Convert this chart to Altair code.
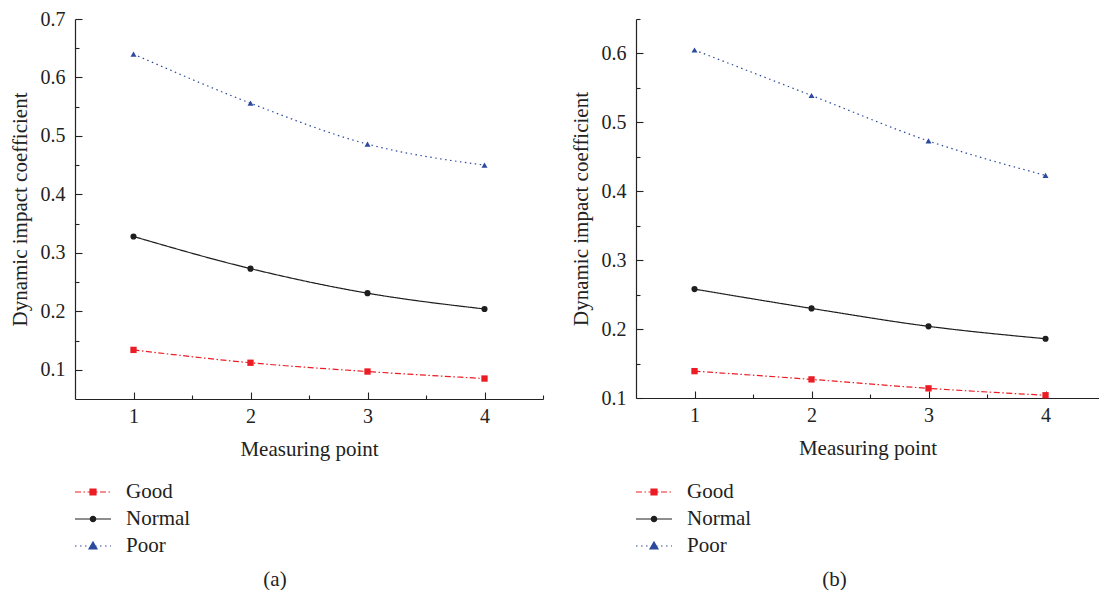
import altair as alt
import pandas as pd

# ---------------- data ----------------
points = [1, 2, 3, 4]
series = ["Good", "Normal", "Poor"]

a_good = [0.134, 0.112, 0.097, 0.085]
a_normal = [0.328, 0.273, 0.231, 0.204]
a_poor = [0.640, 0.556, 0.486, 0.450]

b_good = [0.139, 0.127, 0.114, 0.104]
b_normal = [0.258, 0.230, 0.204, 0.186]
b_poor = [0.605, 0.539, 0.473, 0.423]

x_major = [1, 2, 3, 4]
x_minor = [1.5, 2.5, 3.5, 4.5]
a_y_major = [0.1, 0.2, 0.3, 0.4, 0.5, 0.6, 0.7]
a_y_minor = [0.15, 0.25, 0.35, 0.45, 0.55, 0.65]
b_y_major = [0.1, 0.2, 0.3, 0.4, 0.5, 0.6]
b_y_minor = [0.15, 0.25, 0.35, 0.45, 0.55, 0.65]

# ---------------- styles ----------------
FONT = "Liberation Serif"
TXT = "#222222"
colors = ["#ec1c24", "#1e1e1e", "#2c4a9e"]
dashes = [[6, 2.5, 1.5, 2.5], [1, 0], [1.5, 3.5]]
marker_shapes = ["square", "circle", "triangle-up"]
marker_sizes = [40, 36, 70]

UNIT = 10.0  # legend symbol: sqrt(400)/2 px per path unit


def seg_path(pattern, half=1.8):
    if not pattern:
        return f"M{-half},0H{half}"
    out = []
    x = -half
    i = 0
    while x < half - 1e-9:
        length = pattern[i % len(pattern)] / UNIT
        end = min(x + length, half)
        if i % 2 == 0:
            out.append(f"M{x:.3f},0H{end:.3f}")
        x = end
        i += 1
    return "".join(out)


square = "M-0.3,-0.3H0.3V0.3H-0.3Z"
circle = "M-0.27,0A0.27,0.27 0 1,0 0.27,0A0.27,0.27 0 1,0 -0.27,0Z"
triangle = "M0,-0.4L0.4,0.3H-0.4Z"
legend_paths = [
    seg_path([6, 2.5, 1.5, 2.5]) + square,
    seg_path(None) + circle,
    seg_path([1.5, 3.5]) + triangle,
]


def make_df(good, normal, poor):
    rows = []
    for s, vals in zip(series, [good, normal, poor]):
        for p, v in zip(points, vals):
            rows.append({"point": p, "value": v, "series": s})
    return pd.DataFrame(rows)


def panel(df, xdom, ydom, y_major, y_minor, W, H, label, title_dx):
    xs = alt.Scale(domain=xdom, nice=False, zero=False)
    ys = alt.Scale(domain=ydom, nice=False, zero=False)
    base = alt.Chart(df)

    lines = base.mark_line(interpolate="monotone", strokeWidth=1.2).encode(
        x=alt.X("point:Q", scale=xs, axis=alt.Axis(
            orient="bottom", values=x_major, format="d", ticks=False, tickSize=0,
            labelPadding=7, grid=False, title="Measuring point", titlePadding=12)),
        y=alt.Y("value:Q", scale=ys, axis=alt.Axis(
            orient="left", values=y_major, format=".1f", ticks=False, tickSize=0,
            labelPadding=10, grid=False, title="Dynamic impact coefficient", titlePadding=10)),
        color=alt.Color("series:N", scale=alt.Scale(domain=series, range=colors), legend=None),
        strokeDash=alt.StrokeDash("series:N", scale=alt.Scale(domain=series, range=dashes), legend=None),
    )

    pts = base.mark_point(filled=True, opacity=1).encode(
        x=alt.X("point:Q", scale=xs, axis=alt.Axis(
            orient="top", offset=-H, values=x_major, labels=False, domain=False,
            tickSize=7, grid=False, title=None)),
        y=alt.Y("value:Q", scale=ys, axis=alt.Axis(
            orient="right", offset=-W, values=y_major, labels=False, domain=False,
            tickSize=7, grid=False, title=None)),
        color=alt.Color("series:N", scale=alt.Scale(domain=series, range=colors), legend=None),
        shape=alt.Shape("series:N", scale=alt.Scale(domain=series, range=marker_shapes), legend=None),
        size=alt.Size("series:O", scale=alt.Scale(domain=series, range=marker_sizes), legend=None),
    )

    leg = alt.Legend(
        title=None, orient="none", legendX=7, legendY=462,
        symbolSize=400, symbolStrokeWidth=1.2, labelOffset=22, rowPadding=6,
        labelFont=FONT, labelFontSize=21, labelColor=TXT,
    )
    legend_layer = base.transform_filter("false").mark_point(
        filled=True, opacity=1, size=400, strokeWidth=1.2
    ).encode(
        x=alt.X("point:Q", scale=xs, axis=alt.Axis(
            orient="top", offset=-H, values=x_minor, labels=False, domain=False,
            tickSize=4, grid=False, title=None)),
        y=alt.Y("value:Q", scale=ys, axis=alt.Axis(
            orient="right", offset=-W, values=y_minor, labels=False, domain=False,
            tickSize=4, grid=False, title=None)),
        fill=alt.Fill("series:N", scale=alt.Scale(domain=series, range=colors), legend=leg),
        stroke=alt.Stroke("series:N", scale=alt.Scale(domain=series, range=colors), legend=leg),
        shape=alt.Shape("series:N", scale=alt.Scale(domain=series, range=legend_paths), legend=leg),
    )

    return (
        alt.layer(lines, pts, legend_layer)
        .resolve_scale(color="independent", shape="independent", size="independent",
                       strokeDash="independent", fill="independent", stroke="independent")
        .resolve_axis(x="independent", y="independent")
        .properties(
            width=W, height=H,
            title=alt.TitleParams(label, orient="bottom", anchor="middle", dx=title_dx,
                                  offset=13, font=FONT, fontSize=21, fontWeight="normal",
                                  color=TXT),
        )
    )


pa = panel(make_df(a_good, a_normal, a_poor), [0.5, 4.5], [0.05, 0.7],
           a_y_major, a_y_minor, 468, 380, "(a)", -34)
pb = panel(make_df(b_good, b_normal, b_poor), [0.5, 4.457], [0.1, 0.65],
           b_y_major, b_y_minor, 463, 379, "(b)", -33)

chart = (
    alt.hconcat(pa, pb, spacing=26)
    .resolve_scale(x="independent", y="independent", color="independent",
                   shape="independent", size="independent", strokeDash="independent",
                   fill="independent", stroke="independent")
    .properties(padding={"left": 9, "top": 9, "right": 0, "bottom": 0})
    .configure_view(strokeWidth=0)
    .configure_axis(
        domainColor=TXT, tickColor=TXT, labelColor=TXT, titleColor=TXT,
        labelFont=FONT, labelFontSize=20, titleFont=FONT, titleFontSize=21,
        titleFontWeight="normal", domainWidth=1.2, tickWidth=1.1,
    )
    .configure_legend(labelFont=FONT, labelFontSize=21, labelColor=TXT)
)

chart.save("out.html", embed_options={"renderer": "svg", "actions": False})
